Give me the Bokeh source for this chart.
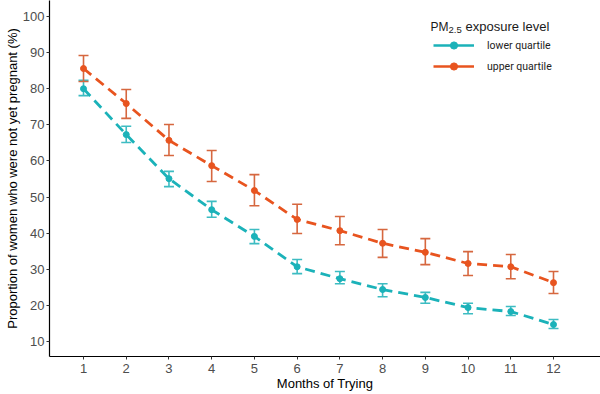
from bokeh.plotting import figure
from bokeh.models import (ColumnDataSource, Whisker, TeeHead, Legend, LegendItem,
                          Label, FixedTicker, Range1d)
from bokeh.embed import file_html
from bokeh.resources import INLINE

# ---- data ----
months = [1, 2, 3, 4, 5, 6, 7, 8, 9, 10, 11, 12]
lower_mean = [80.0, 67.3, 55.1, 46.5, 39.1, 30.7, 27.4, 24.4, 22.2, 19.4, 18.3, 14.7]
lower_lo = [78.1, 65.1, 52.9, 44.4, 37.1, 28.8, 26.0, 22.4, 20.6, 17.7, 17.2, 13.6]
lower_hi = [82.3, 69.6, 57.1, 48.8, 41.0, 32.7, 29.4, 26.0, 23.6, 20.6, 19.7, 16.1]
upper_mean = [85.6, 75.9, 65.7, 58.7, 51.8, 43.8, 40.7, 37.2, 34.7, 31.6, 30.7, 26.3]
upper_lo = [82.0, 71.8, 61.5, 54.3, 47.6, 39.9, 36.8, 33.3, 31.3, 28.3, 27.4, 23.3]
upper_hi = [89.2, 79.8, 70.1, 62.9, 56.2, 48.0, 44.6, 41.0, 38.5, 34.9, 34.1, 29.4]
y_ticks = [10, 20, 30, 40, 50, 60, 70, 80, 90, 100]
series_labels = ["lower quartile", "upper quartile"]

TEAL = "#1bb2b9"
TEAL_ERR = "#3dbcc2"
ORANGE = "#e8541f"
ORANGE_ERR = "#d6673f"
FONT = "Liberation Sans"

p = figure(width=600, height=394, output_backend="svg", toolbar_location=None,
           x_range=Range1d(0.204, 13.1), y_range=Range1d(5.85, 104.43),
           min_border_left=49, min_border_right=0, min_border_top=0,
           min_border_bottom=38)
p.outline_line_color = None
p.xgrid.grid_line_color = None
p.ygrid.grid_line_color = None
p.background_fill_color = "white"
p.border_fill_color = "white"

src_l = ColumnDataSource(dict(x=months, y=lower_mean, lo=lower_lo, hi=lower_hi))
src_u = ColumnDataSource(dict(x=months, y=upper_mean, lo=upper_lo, hi=upper_hi))

for src, col, ecol in [(src_l, TEAL, TEAL_ERR), (src_u, ORANGE, ORANGE_ERR)]:
    p.line("x", "y", source=src, line_color=col, line_width=2.8, line_dash="10 6")
    w = Whisker(source=src, base="x", lower="lo", upper="hi",
                line_color=ecol, line_width=1.6,
                lower_head=TeeHead(size=10, line_color=ecol, line_width=1.6),
                upper_head=TeeHead(size=10, line_color=ecol, line_width=1.6))
    p.add_layout(w)
    p.scatter("x", "y", source=src, size=6, fill_color=col, line_color=col)

# legend-only helper renderers (a single NaN point: nothing drawn in the plot)
nan = float("nan")
help_l = ColumnDataSource(dict(x=[nan], y=[nan]))
help_u = ColumnDataSource(dict(x=[nan], y=[nan]))
ll = p.line("x", "y", source=help_l, line_color=TEAL, line_width=2.5)
lp = p.scatter("x", "y", source=help_l, size=6, fill_color=TEAL, line_color=TEAL)
ul = p.line("x", "y", source=help_u, line_color=ORANGE, line_width=2.5)
up = p.scatter("x", "y", source=help_u, size=6, fill_color=ORANGE, line_color=ORANGE)

legend = Legend(items=[LegendItem(label=series_labels[0], renderers=[ll, lp], index=0),
                       LegendItem(label=series_labels[1], renderers=[ul, up], index=0)],
                location=(384, 281), orientation="vertical",
                glyph_width=41, glyph_height=18, label_height=18, spacing=3,
                label_standoff=13, padding=0, margin=0,
                border_line_color=None, background_fill_alpha=0,
                label_text_font="Roboto", label_text_font_size="10.5px",
                label_text_color="#222222")
p.add_layout(legend)

# legend title with subscript
p.add_layout(Label(x=9.121, y=97.23, text="PM", text_font=FONT,
                   text_font_size="12px", text_color="#1a1a1a",
                   text_baseline="alphabetic", text_align="left"))
p.add_layout(Label(x=9.542, y=96.35, text="2.5", text_font=FONT,
                   text_font_size="9.5px", text_color="#1a1a1a",
                   text_baseline="alphabetic", text_align="left"))
p.add_layout(Label(x=9.940, y=97.23, text="exposure level", text_font=FONT,
                   text_font_size="13px", text_color="#1a1a1a",
                   text_baseline="alphabetic", text_align="left"))

# axes
p.xaxis.ticker = FixedTicker(ticks=months)
p.yaxis.ticker = FixedTicker(ticks=y_ticks)
for ax in (p.xaxis, p.yaxis):
    ax.axis_line_color = "black"
    ax.axis_line_width = 1.2
    ax.major_tick_line_color = "#333333"
    ax.major_tick_out = 3
    ax.major_tick_in = 0
    ax.minor_tick_line_color = None
    ax.major_label_text_font = FONT
    ax.major_label_text_font_size = "13px"
    ax.major_label_text_color = "#4d4d4d"
    ax.axis_label_text_font = FONT
    ax.axis_label_text_font_size = "13px"
    ax.axis_label_text_font_style = "normal"
    ax.axis_label_text_color = "black"
p.xaxis.axis_label = "Months of Trying"
p.yaxis.axis_label = "Proportion of women who were not yet pregnant (%)"
p.xaxis.major_label_standoff = 4
p.xaxis.axis_label_standoff = 0
p.yaxis.major_label_standoff = 2
p.yaxis.axis_label_standoff = 0

open("out.html", "w").write(file_html(p, INLINE))
